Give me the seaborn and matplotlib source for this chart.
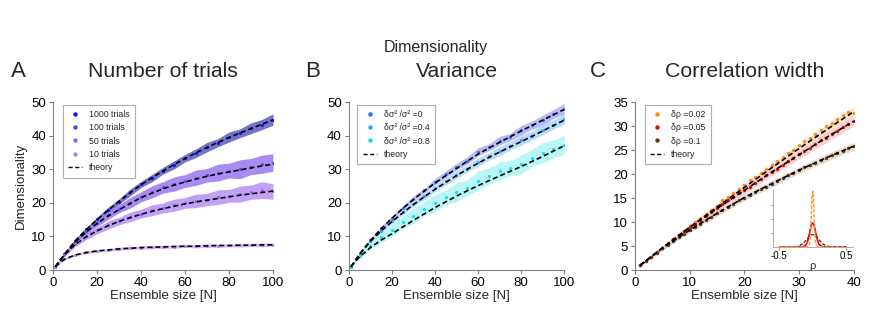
import numpy as np
import pandas as pd
import matplotlib
matplotlib.use('Agg')
import matplotlib.pyplot as plt
import seaborn as sns
from matplotlib.lines import Line2D

sns.set_style('ticks')
plt.rcParams['font.family'] = ['Liberation Sans', 'DejaVu Sans']

# ---- Panel A: number of trials ----
n_grid = [1, 5, 10, 15, 20, 25, 30, 35, 40, 45, 50, 55, 60, 65, 70, 75, 80, 85, 90, 95, 100]
trial_labels = ['1000 trials', '100 trials', '50 trials', '10 trials']

theory_1000 = [1.0, 4.6, 8.7, 12.0, 15.0, 17.8, 20.5, 23.0, 25.4, 27.5, 29.5, 31.4, 33.2, 34.9, 36.5, 38.0, 39.4, 40.8, 42.1, 43.4, 44.7]
theory_100 = [1.0, 4.6, 8.3, 11.3, 13.9, 16.1, 18.0, 19.8, 21.6, 22.9, 24.2, 25.3, 26.2, 27.1, 27.9, 28.6, 29.2, 29.8, 30.4, 31.0, 31.5]
theory_50 = [1.0, 4.4, 7.6, 9.9, 11.7, 13.2, 14.5, 15.6, 16.6, 17.5, 18.3, 19.0, 19.7, 20.3, 20.8, 21.3, 21.8, 22.3, 22.7, 23.1, 23.5]
theory_10 = [1.0, 3.2, 4.5, 5.2, 5.7, 6.0, 6.3, 6.5, 6.7, 6.8, 6.9, 7.0, 7.1, 7.1, 7.2, 7.3, 7.3, 7.4, 7.4, 7.5, 7.5]

dots_1000 = [1.0, 4.7, 8.8, 12.1, 15.1, 17.9, 20.4, 23.1, 25.5, 27.4, 29.6, 31.3, 33.3, 34.8, 36.6, 37.9, 39.6, 40.7, 42.2, 43.3, 44.8]
dots_100 = [1.0, 4.7, 8.4, 11.5, 14.1, 16.4, 18.3, 20.0, 21.8, 23.3, 24.6, 25.6, 26.5, 27.5, 28.2, 29.0, 29.6, 30.0, 30.8, 31.5, 32.0]
dots_50 = [1.0, 4.4, 7.7, 10.0, 11.8, 13.4, 14.6, 15.8, 16.8, 17.8, 18.5, 19.3, 20.0, 20.6, 21.0, 21.7, 22.1, 22.6, 23.2, 23.8, 23.4]
dots_10 = [1.0, 3.3, 4.6, 5.3, 5.7, 6.0, 6.4, 6.6, 6.7, 6.9, 6.9, 7.0, 7.2, 7.1, 7.3, 7.3, 7.4, 7.4, 7.5, 7.5, 7.6]

spread_1000 = [0.1, 0.3, 0.5, 0.6, 0.7, 0.8, 0.8, 1.0, 0.9, 1.1, 1.0, 1.2, 1.1, 1.3, 1.4, 1.2, 1.5, 1.3, 1.6, 1.5, 1.7]
spread_100 = [0.1, 0.4, 0.7, 0.9, 1.1, 1.3, 1.2, 1.6, 1.5, 1.8, 1.7, 2.1, 1.9, 2.3, 2.0, 2.5, 2.2, 2.8, 2.4, 2.7, 2.6]
spread_50 = [0.1, 0.4, 0.7, 0.9, 1.0, 1.2, 1.1, 1.4, 1.3, 1.6, 1.5, 1.8, 1.6, 2.0, 1.8, 2.2, 1.9, 2.4, 2.1, 2.5, 2.3]
spread_10 = [0.05, 0.3, 0.35, 0.4, 0.35, 0.4, 0.45, 0.4, 0.45, 0.5, 0.45, 0.5, 0.45, 0.5, 0.55, 0.5, 0.5, 0.55, 0.5, 0.55, 0.5]

# ---- Panel B: variance ----
var_labels = ['δσ² /σ² =0', 'δσ² /σ² =0.4', 'δσ² /σ² =0.8']
theory_v0 = [1.0, 4.8, 8.8, 12.3, 15.4, 18.3, 21.0, 23.5, 25.9, 28.1, 30.2, 32.4, 34.5, 36.3, 38.0, 39.7, 41.4, 43.0, 44.6, 46.2, 47.8]
theory_v04 = [1.0, 4.7, 8.5, 11.6, 14.4, 17.0, 19.5, 21.8, 24.0, 26.1, 28.1, 30.0, 31.8, 33.5, 35.1, 36.7, 38.2, 39.8, 41.4, 43.0, 44.6]
theory_v08 = [1.0, 3.9, 6.7, 8.9, 10.8, 12.8, 14.8, 16.7, 18.6, 20.3, 22.0, 23.6, 25.1, 26.6, 28.0, 29.4, 30.8, 32.3, 33.8, 35.4, 37.0]

dots_v0 = [1.0, 4.9, 8.9, 12.4, 15.6, 18.5, 21.3, 23.7, 26.3, 28.5, 30.8, 32.6, 35.2, 36.5, 38.5, 39.6, 41.6, 43.1, 44.6, 46.4, 48.0]
dots_v04 = [1.0, 4.8, 8.6, 11.7, 14.6, 17.2, 19.8, 22.0, 24.3, 26.4, 28.4, 30.2, 32.1, 33.8, 35.4, 37.0, 38.6, 40.0, 41.8, 43.3, 45.0]
dots_v08 = [1.0, 4.3, 7.3, 9.9, 11.8, 14.2, 16.2, 18.2, 20.0, 21.6, 23.2, 24.5, 26.6, 28.0, 29.4, 30.3, 31.5, 33.4, 34.9, 36.0, 37.3]

spread_v0 = [0.1, 0.3, 0.4, 0.5, 0.5, 0.6, 0.7, 0.6, 0.9, 1.0, 0.9, 1.1, 1.2, 1.0, 1.3, 1.1, 1.4, 1.2, 1.5, 1.3, 1.6]
spread_v04 = [0.1, 0.3, 0.5, 0.6, 0.7, 0.8, 0.8, 1.0, 0.9, 1.1, 1.2, 1.0, 1.3, 1.1, 1.4, 1.2, 1.5, 1.3, 1.6, 1.4, 1.5]
spread_v08 = [0.2, 0.8, 1.2, 1.6, 2.0, 1.8, 2.4, 2.0, 2.6, 2.2, 2.8, 2.3, 2.9, 2.4, 2.7, 2.2, 2.8, 2.5, 3.0, 2.6, 2.9]

# ---- Panel C: correlation width ----
rho_labels = ['δρ =0.02', 'δρ =0.05', 'δρ =0.1']
n_theory_c = [1, 5, 10, 15, 20, 25, 30, 35, 40]
theory_r002 = [1.0, 4.6, 8.9, 13.1, 17.2, 21.3, 25.3, 29.2, 33.0]
theory_r005 = [1.0, 4.6, 8.8, 12.8, 16.6, 20.4, 24.0, 27.6, 31.0]
theory_r01 = [1.0, 4.5, 8.3, 11.8, 15.1, 18.0, 20.8, 23.4, 25.8]
spread_r002 = [0.1, 0.4, 0.6, 0.7, 0.8, 0.9, 1.0, 1.0, 1.1]
spread_r005 = [0.1, 0.4, 0.6, 0.7, 0.8, 0.8, 0.9, 1.0, 1.0]
spread_r01 = [0.1, 0.4, 0.5, 0.6, 0.6, 0.7, 0.7, 0.8, 0.8]

n_dots_c = list(range(1, 41))
dots_r002 = [1.0, 1.9, 2.8, 3.8, 4.7, 5.6, 6.5, 7.4, 8.2, 9.1, 10.0, 10.8, 11.7, 12.6, 13.4, 14.5, 15.3, 16.1, 16.9, 17.8,
             18.7, 19.4, 20.2, 21.1, 21.9, 22.7, 23.5, 24.4, 25.1, 26.0, 26.8, 27.5, 28.3, 29.2, 30.0, 30.7, 31.4, 32.2, 33.0, 32.8]
dots_r005 = [1.0, 1.9, 2.8, 3.7, 4.6, 5.5, 6.4, 7.3, 8.1, 8.9, 9.7, 10.5, 11.3, 12.1, 12.9, 13.8, 14.5, 15.2, 16.0, 16.6,
             17.4, 18.1, 18.9, 19.7, 20.5, 21.1, 21.9, 22.7, 23.4, 24.1, 24.8, 25.5, 26.2, 27.0, 27.6, 28.3, 29.0, 29.7, 30.4, 31.0]
dots_r01 = [1.0, 1.9, 2.7, 3.6, 4.5, 5.3, 6.1, 6.9, 7.6, 8.3, 9.0, 9.7, 10.4, 11.1, 11.8, 12.5, 13.1, 13.8, 14.5, 15.1,
            15.7, 16.3, 16.9, 17.4, 18.0, 18.6, 19.2, 19.7, 20.3, 20.8, 21.4, 21.9, 22.4, 22.9, 23.4, 23.9, 24.4, 24.9, 25.4, 25.8]

# inset: distribution of correlations
rho_grid = [-0.5, -0.4, -0.3, -0.25, -0.2, -0.15, -0.1, -0.075, -0.05, -0.04, -0.03, -0.02, -0.01, 0.0,
            0.01, 0.02, 0.03, 0.04, 0.05, 0.075, 0.1, 0.15, 0.2, 0.25, 0.3, 0.4, 0.5]
dens_r002 = [0, 0, 0, 0, 0, 0, 0, 0.001, 0.04, 0.14, 0.32, 0.61, 0.88, 1.0,
             0.88, 0.61, 0.32, 0.14, 0.04, 0.001, 0, 0, 0, 0, 0, 0, 0]
dens_r005 = [0, 0, 0, 0, 0, 0.002, 0.036, 0.107, 0.23, 0.29, 0.34, 0.39, 0.42, 0.43,
             0.42, 0.39, 0.34, 0.29, 0.23, 0.107, 0.036, 0.002, 0, 0, 0, 0, 0]
dens_r01 = [0, 0, 0.001, 0.005, 0.019, 0.055, 0.119, 0.156, 0.189, 0.198, 0.208, 0.215, 0.22, 0.22,
            0.22, 0.215, 0.208, 0.198, 0.189, 0.156, 0.119, 0.055, 0.019, 0.005, 0.001, 0, 0]

spine_grey = '#808080'


def style_axes(ax):
    sns.despine(ax=ax)
    for s in ['left', 'bottom']:
        ax.spines[s].set_color(spine_grey)
        ax.spines[s].set_linewidth(0.8)
    ax.tick_params(colors=spine_grey, labelcolor='black', labelsize=9.5, length=3, width=0.8, pad=2)


def draw_series(ax, x, dots, spread, dot_color, band_color, band_alpha):
    d = np.array(dots)
    s = np.array(spread)
    ax.fill_between(x, d - s, d + s, color=band_color, alpha=band_alpha, lw=0)
    sns.scatterplot(x=x, y=dots, ax=ax, color=dot_color, s=5, linewidth=0, zorder=3)


def draw_theory(ax, x, y):
    sns.lineplot(x=x, y=y, ax=ax, color='black', lw=1.2, zorder=4)
    ax.lines[-1].set_dashes((3, 1.8))


def add_legend(ax, labels, colors, anchor):
    handles = [Line2D([], [], ls='none', marker='o', ms=2.2, color=c) for c in colors]
    handles.append(Line2D([], [], color='black', ls='--', lw=1.0, dashes=(3, 1.8)))
    leg = ax.legend(handles, labels + ['theory'], loc='upper left', bbox_to_anchor=anchor,
                    borderaxespad=0, fontsize=6.3, frameon=True, fancybox=False,
                    handlelength=1.6, handletextpad=0.8, labelspacing=0.5, borderpad=0.6)
    leg.get_frame().set_edgecolor('#999999')
    leg.get_frame().set_linewidth(0.8)


fig = plt.figure(figsize=(8.72, 3.27), dpi=100)
axA = fig.add_axes([0.061, 0.174, 0.252, 0.514])
axB = fig.add_axes([0.400, 0.174, 0.247, 0.514])
axC = fig.add_axes([0.728, 0.174, 0.251, 0.514])

# Panel A
a_dot_colors = ['#1414f0', '#5050d0', '#8a6cf0', '#a88af0']
a_band_colors = ['#5a5ac0', '#9a78f0', '#b890f5', '#d6b0f8']
a_dots = [dots_1000, dots_100, dots_50, dots_10]
a_spreads = [spread_1000, spread_100, spread_50, spread_10]
a_theory = [theory_1000, theory_100, theory_50, theory_10]
for i in range(4):
    draw_series(axA, n_grid, a_dots[i], a_spreads[i], a_dot_colors[i], a_band_colors[i], 0.85)
for t in a_theory:
    draw_theory(axA, n_grid, t)
axA.set_xlim(0, 100)
axA.set_ylim(0, 50)
axA.set_xticks([0, 20, 40, 60, 80, 100])
axA.set_yticks([0, 10, 20, 30, 40, 50])
axA.set_xlabel('Ensemble size [N]', fontsize=9.5, labelpad=1)
axA.set_ylabel('Dimensionality', fontsize=9.5, labelpad=3)
style_axes(axA)
add_legend(axA, trial_labels, a_dot_colors, (0.045, 0.985))

# Panel B
b_dot_colors = ['#2f6ff0', '#2ca4f5', '#10e0e8']
b_band_colors = ['#a8a8f0', '#a8d4f8', '#a8f4f4']
b_dots = [dots_v0, dots_v04, dots_v08]
b_spreads = [spread_v0, spread_v04, spread_v08]
b_theory = [theory_v0, theory_v04, theory_v08]
for i in range(3):
    draw_series(axB, n_grid, b_dots[i], b_spreads[i], b_dot_colors[i], b_band_colors[i], 0.8)
for t in b_theory:
    draw_theory(axB, n_grid, t)
axB.set_xlim(0, 100)
axB.set_ylim(0, 50)
axB.set_xticks([0, 20, 40, 60, 80, 100])
axB.set_yticks([0, 10, 20, 30, 40, 50])
axB.set_xlabel('Ensemble size [N]', fontsize=9.5, labelpad=1)
axB.set_ylabel('')
style_axes(axB)
add_legend(axB, var_labels, b_dot_colors, (0.04, 0.985))

# Panel C
c_dot_colors = ['#ff8c10', '#dd1010', '#6a3a10']
c_band_colors = ['#f5d6bc', '#f2c4c4', '#d8d0c8']
c_dots = [dots_r002, dots_r005, dots_r01]
c_spreads = [spread_r002, spread_r005, spread_r01]
c_theory = [theory_r002, theory_r005, theory_r01]
for i in range(3):
    t = np.array(c_theory[i])
    s = np.array(c_spreads[i])
    axC.fill_between(n_theory_c, t - s, t + s, color=c_band_colors[i], alpha=0.7, lw=0)
for i in range(3):
    sns.scatterplot(x=n_dots_c, y=c_dots[i], ax=axC, color=c_dot_colors[i], s=6, linewidth=0, zorder=3)
for t in c_theory:
    draw_theory(axC, n_theory_c, t)
axC.set_xlim(0, 40)
axC.set_ylim(0, 35)
axC.set_xticks([0, 10, 20, 30, 40])
axC.set_yticks([0, 5, 10, 15, 20, 25, 30, 35])
axC.set_xlabel('Ensemble size [N]', fontsize=9.5, labelpad=1)
axC.set_ylabel('')
style_axes(axC)
add_legend(axC, rho_labels, c_dot_colors, (0.045, 0.985))

# inset
axI = fig.add_axes([0.886, 0.245, 0.092, 0.174])
sns.lineplot(x=rho_grid, y=dens_r005, ax=axI, color='#dd1010', lw=1.0)
for dens, col in zip([dens_r01, dens_r005, dens_r002], ['#6a3a10', '#dd1010', '#ff9020']):
    sns.lineplot(x=rho_grid, y=dens, ax=axI, color=col, lw=1.0)
    axI.lines[-1].set_dashes((2.5, 1.2))
axI.set_xlim(-0.6, 0.6)
axI.set_ylim(0, 1.02)
axI.set_xticks([-0.5, 0.5])
axI.set_xticklabels(['-0.5', '0.5'])
axI.set_yticks([0.25, 0.5, 0.75])
axI.set_yticklabels([])
axI.set_xlabel('ρ', fontsize=8, labelpad=0)
axI.set_ylabel('')
axI.patch.set_alpha(0)
sns.despine(ax=axI)
for s in ['left', 'bottom']:
    axI.spines[s].set_color('#a0a0a0')
    axI.spines[s].set_linewidth(0.6)
axI.tick_params(colors='#a0a0a0', labelcolor='black', labelsize=7, length=2, width=0.6, pad=1)

# titles
fig.text(0.5, 0.855, 'Dimensionality', ha='center', va='center', fontsize=11.5)
titles = ['Number of trials', 'Variance', 'Correlation width']
for ax, title in zip([axA, axB, axC], titles):
    bb = ax.get_position()
    fig.text(bb.x0 + bb.width / 2, 0.78, title, ha='center', va='center', fontsize=15.3)
for x, letter in zip([0.021, 0.358, 0.686], ['A', 'B', 'C']):
    fig.text(x, 0.78, letter, ha='center', va='center', fontsize=16)

fig.savefig('out.png', dpi=100)
